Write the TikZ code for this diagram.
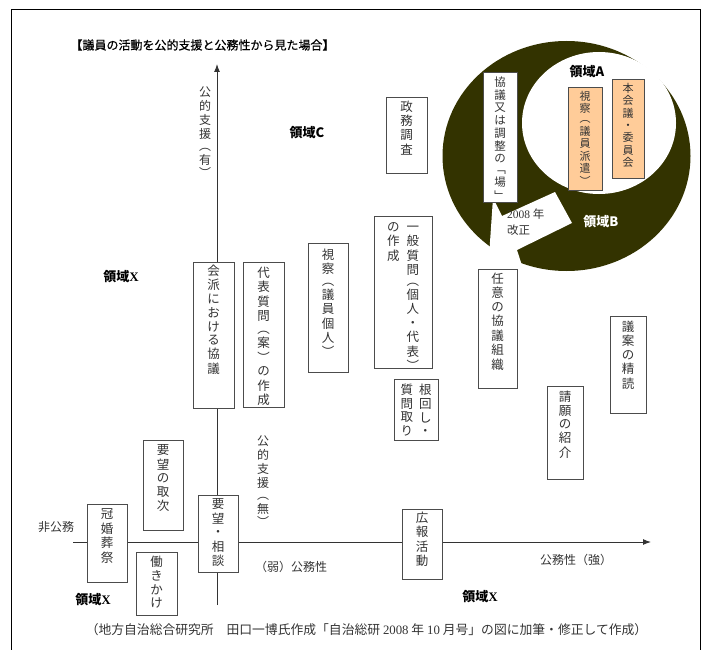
\documentclass[tikz,border=0pt]{standalone}
\usepackage{fontspec}
\setmainfont{Liberation Serif}
\newfontfamily\jp{Noto Sans CJK JP}
\newfontfamily\jpm[FakeBold=0.6]{Noto Sans CJK JP}
\usetikzlibrary{arrows.meta,fit,shapes.geometric}
\definecolor{darkolive}{HTML}{333300}
\definecolor{peachc}{HTML}{FFCC99}
\newcommand{\tate}[1]{\begin{tabular}[t]{@{}c@{}}#1\end{tabular}}
\begin{document}
\begin{tikzpicture}[x=1pt,y=-1pt,
 box/.style={draw=black!70, line width=0.8pt, fill=white, inner sep=0pt},
 peachbox/.style={box, fill=peachc},
 vt/.style={anchor=north, inner sep=0pt, font=\jp\fontsize{12.5pt}{13.3pt}\selectfont, text=black!80},
 vts/.style={vt, font=\jp\fontsize{11pt}{11.6pt}\selectfont},
 region/.style={font=\jp\bfseries\fontsize{13pt}{15pt}\selectfont, inner sep=0pt},
 plain/.style={font=\jp\fontsize{12pt}{15pt}\selectfont, text=black!80, inner sep=0pt},
 axis/.style={draw=black!80, line width=1pt, -{Latex[length=8pt,width=6pt]}}
]
\useasboundingbox (0,0) rectangle (704,650);
\draw[line width=1pt] (11,650) -- (11,10) -- (700,10) -- (700,650);

% title
\node[font=\jpm\fontsize{12pt}{14pt}\selectfont, inner sep=0pt] (title) at (202.5,45) {【議員の活動を公的支援と公務性から見た場合】};

% regions B and A
\node[ellipse, fill=darkolive, inner sep=0pt, minimum width=248pt, minimum height=230pt] (zoneB) at (566.5,156) {};
\node[ellipse, fill=white, inner sep=0pt, minimum width=154pt, minimum height=142pt] (zoneA) at (599,123) {};

% callout
\fill[white] (493,198) -- (502,216) -- (555,192) -- (572,223) -- (517,250) -- (526,278) -- (488,278) -- (490,242) -- cycle;
\node[plain, align=left, anchor=north west, font=\jp\fontsize{11.5pt}{16pt}\selectfont] (kaisei) at (507,209) {{\rmfamily 2008} 年\\改正};

% axes
\coordinate (vb) at (217,605);
\coordinate (vt) at (217,64);
\coordinate (hl) at (73,542);
\coordinate (hr) at (651,542);
\draw[axis] (vb) -- (vt);
\draw[axis] (hl) -- (hr);

% boxes
\node[box, fit={(193,262) (234,408)}] (kaiha) {};
\node[box, fit={(243,262) (284,407)}] (daihyo) {};
\node[box, fit={(308,243) (348,372)}] (shisatsuA) {};
\node[box, fit={(374,216) (432,368)}] (ippan) {};
\node[box, fit={(386,97) (427,173)}] (seimu) {};
\node[box, fit={(394,379) (438,440)}] (nemawashi) {};
\node[box, fit={(483,72) (517,202)}] (kyogi) {};
\node[peachbox, fit={(568,87) (602,190)}] (shisatsuB) {};
\node[peachbox, fit={(612,79) (644,178)}] (honkaigi) {};
\node[box, fit={(478,269) (517,388)}] (nini) {};
\node[box, fit={(610,316) (646,413)}] (gian) {};
\node[box, fit={(547,386) (583,479)}] (seigan) {};
\node[box, fit={(143,440) (183,530)}] (yobo) {};
\node[box, fit={(87,504) (127,582)}] (kankon) {};
\node[box, fit={(136,552) (177,615)}] (hataraki) {};
\node[box, fit={(198,495) (238,572)}] (sodan) {};
\node[box, fit={(402,509) (442,579)}] (koho) {};

% box texts
\node[vt] (kaiha-t) at ([yshift=-3pt]kaiha.north) {\tate{会\\派\\に\\お\\け\\る\\協\\議}};
\node[vt] (daihyo-t) at ([yshift=-5pt]daihyo.north) {\tate{代\\表\\質\\問\\︵\\案\\︶\\の\\作\\成}};
\node[vt] (shisatsuA-t) at ([yshift=-6pt]shisatsuA.north) {\tate{視\\察\\[-2pt]︵\\議\\員\\個\\人\\︶}};
\node[vt] (ippan-t) at ([yshift=-6pt]ippan.north) {\tate{の\\作\\成}\hspace{7pt}\tate{一\\般\\質\\問\\[-2pt]︵\\個\\人\\・\\代\\表\\︶}};
\node[vt] (seimu-t) at ([yshift=-4pt]seimu.north) {\tate{政\\務\\調\\査}};
\node[vt] (nemawashi-t) at ([yshift=-5pt]nemawashi.north) {\tate{質\\問\\取\\り}\hspace{6pt}\tate{根\\回\\し\\・}};
\node[vt, font=\jp\fontsize{11.5pt}{11.8pt}\selectfont] (kyogi-t) at ([yshift=-5pt]kyogi.north) {\tate{協\\議\\又\\は\\調\\整\\の\\﹁\\場\\﹂}};
\node[vts] (shisatsuB-t) at ([yshift=-4pt]shisatsuB.north) {\tate{視\\察\\[-2pt]︵\\議\\員\\派\\遣\\︶}};
\node[vts] (honkaigi-t) at ([yshift=-4pt]honkaigi.north) {\tate{本\\会\\議\\・\\委\\員\\会}};
\node[vt] (nini-t) at ([yshift=-4pt]nini.north) {\tate{任\\意\\の\\協\\議\\組\\織}};
\node[vt] (gian-t) at ([yshift=-5pt]gian.north) {\tate{議\\案\\の\\精\\読}};
\node[vt] (seigan-t) at ([yshift=-5pt]seigan.north) {\tate{請\\願\\の\\紹\\介}};
\node[vt] (yobo-t) at ([yshift=-5pt]yobo.north) {\tate{要\\望\\の\\取\\次}};
\node[vt] (kankon-t) at ([yshift=-5pt]kankon.north) {\tate{冠\\婚\\葬\\祭}};
\node[vt] (hataraki-t) at ([yshift=-4pt]hataraki.north) {\tate{働\\き\\か\\け}};
\node[vt] (sodan-t) at ([yshift=-4pt]sodan.north) {\tate{要\\望\\・\\相\\談}};
\node[vt] (koho-t) at ([yshift=-3pt]koho.north) {\tate{広\\報\\活\\動}};

% axis labels
\node[vt, font=\jp\fontsize{12pt}{12.2pt}\selectfont] (yuu) at (205,87) {\tate{公\\的\\支\\援\\︵\\有\\︶}};
\node[vt, font=\jp\fontsize{12pt}{12.2pt}\selectfont] (mu) at (263,436) {\tate{公\\的\\支\\援\\︵\\無\\︶}};
\node[plain] (hikomu) at (56,527) {非公務};
\node[plain] (jaku) at (291,567) {（弱）公務性};
\node[plain] (kyo) at (576,560) {公務性（強）};

% region labels
\node[region] (rC) at (307,133) {領域C};
\node[region] (rA) at (587,72) {領域A};
\node[region, text=white] (rB) at (601,222) {領域B};
\node[region] (rX1) at (121,277) {領域{\rmfamily X}};
\node[region] (rX2) at (93,600) {領域{\rmfamily X}};
\node[region] (rX3) at (480,597) {領域{\rmfamily X}};

% caption
\node[plain, font=\jp\fontsize{12.8pt}{14pt}\selectfont] (caption) at (366.5,630) {（地方自治総合研究所　田口一博氏作成「自治総研 {\rmfamily 2008} 年 {\rmfamily 10} 月号」の図に加筆・修正して作成）};
\end{tikzpicture}
\end{document}
